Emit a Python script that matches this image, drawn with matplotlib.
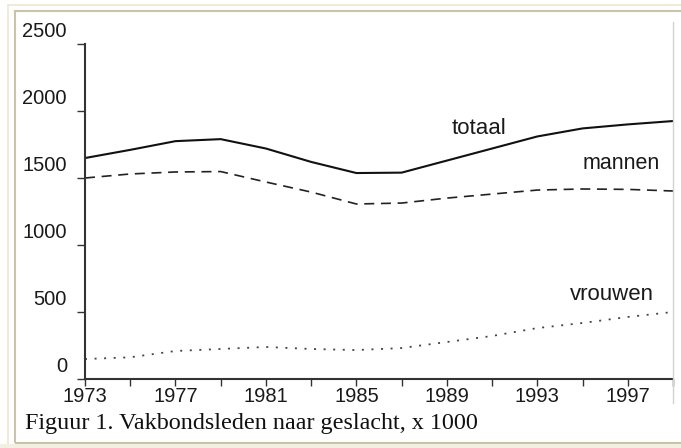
"""
Vakbondsleden naar geslacht, 1973-1999 (x 1000).
"""
import matplotlib
matplotlib.use("Agg")
import matplotlib.pyplot as plt
import matplotlib.transforms as mtransforms
from matplotlib.patches import Rectangle
from matplotlib.lines import Line2D

years = [1973, 1975, 1977, 1979, 1981, 1983, 1985, 1987, 1989, 1991, 1993, 1995, 1997, 1999]
totaal = [1649, 1710, 1775, 1790, 1720, 1620, 1537, 1540, 1630, 1720, 1810, 1870, 1900, 1925]
mannen = [1500, 1530, 1545, 1548, 1470, 1395, 1306, 1313, 1350, 1380, 1410, 1418, 1415, 1403]
vrouwen = [149, 162, 209, 224, 239, 224, 216, 231, 276, 321, 380, 418, 463, 500]

y_ticks = [0, 500, 1000, 1500, 2000, 2500]
x_ticks = [1973, 1977, 1981, 1985, 1989, 1993, 1997]
caption = "Figuur 1. Vakbondsleden naar geslacht, x 1000"

W, H = 681, 448
fig = plt.figure(figsize=(W / 100, H / 100), dpi=100)
fig.patch.set_facecolor("white")


def px(x, y):
    return x / W, 1 - y / H


# page frame
fig.add_artist(Rectangle(px(8, 448), (W + 20) / W, 443 / H, transform=fig.transFigure,
                         fill=False, edgecolor="#ece6d2", linewidth=1.2))
fig.add_artist(Rectangle(px(15, 443), (W + 30) / W, (443 - 11) / H,
                         transform=fig.transFigure, fill=False,
                         edgecolor="#c9c3ae", linewidth=1.5))
fig.add_artist(Rectangle(px(0, 448), 1, 4 / H, transform=fig.transFigure,
                         facecolor="#f3efe1", edgecolor="none"))
fig.add_artist(Line2D([673 / W, 673 / W], [1 - 22 / H, 1 - 403 / H],
                      transform=fig.transFigure, color="#d2d2d2", linewidth=1.0))

ax = fig.add_axes([85 / W, 1 - 379 / H, (673 - 85) / W, (379 - 44) / H])
ax.patch.set_alpha(0)

ax.plot(years, totaal, color="#111111", linewidth=1.5, solid_joinstyle="round")
ax.plot(years, mannen, color="#222222", linewidth=1.2, dashes=(6, 4))
ax.plot(years, vrouwen, color="#444444", linewidth=1.3, dashes=(1.1, 4.2))

ax.set_xlim(1973, 1999)
ax.set_ylim(0, 2500)

for side in ["top", "right"]:
    ax.spines[side].set_visible(False)
for side in ["left", "bottom"]:
    ax.spines[side].set_color("#333333")
    ax.spines[side].set_linewidth(1.5)

font = "Liberation Sans"
ax.set_xticks(range(1973, 2000, 2), minor=False)
ax.set_xticklabels([str(y) if y in x_ticks else "" for y in range(1973, 2000, 2)],
                   family=font, fontsize=14.5, color="#1a1a1a")
ax.tick_params(axis="x", direction="out", length=5, width=1, color="#333333", pad=1)

ax.set_yticks(y_ticks)
ax.set_yticklabels([])
ax.tick_params(axis="y", direction="out", length=6, width=1, color="#333333")
shift = mtransforms.ScaledTranslation(-13 / 72, 5 / 72, fig.dpi_scale_trans)
for v in y_ticks:
    ax.text(0, v, str(v), transform=ax.get_yaxis_transform() + shift,
            ha="right", va="baseline", family=font, fontsize=14.5, color="#1a1a1a",
            clip_on=False)

ax.text(1990.4, 1872, "totaal", family=font, fontsize=16, ha="center", va="center",
        color="#1a1a1a")
ax.text(1996.7, 1611, "mannen", family=font, fontsize=15.5, ha="center", va="center",
        color="#1a1a1a")
ax.text(1996.3, 634, "vrouwen", family=font, fontsize=16, ha="center", va="center",
        color="#1a1a1a")

fig.text(25 / W, 1 - 429 / H, caption, family="Liberation Serif", fontsize=17.4,
         ha="left", va="baseline", color="#111111")

fig.savefig("out.png", dpi=100)
